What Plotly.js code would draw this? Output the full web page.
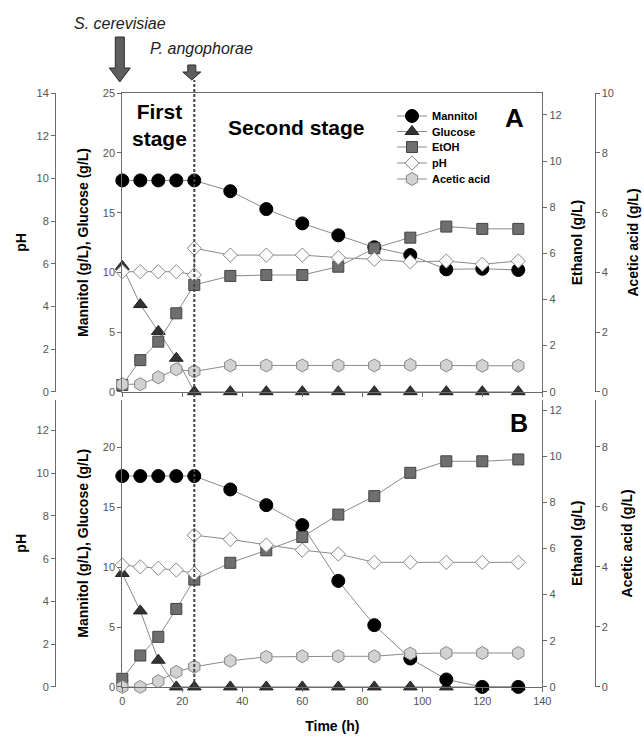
<!DOCTYPE html>
<html>
<head>
<meta charset="utf-8">
<script src="https://cdn.plot.ly/plotly-3.0.1.min.js"></script>
<style>html,body{margin:0;padding:0;background:#fff}#chart{width:644px;height:738px}</style>
</head>
<body>
<div id="chart"></div>
<script>
// ---- data ----
const time   = [0, 6, 12, 18, 24, 36, 48, 60, 72, 84, 96, 108, 120, 132];
const timePH = [0, 6, 12, 18, 24, 24, 36, 48, 60, 72, 84, 96, 108, 120, 132];

// Panel A
const mannitolA = [17.7, 17.7, 17.7, 17.7, 17.7, 16.8, 15.3, 14.1, 13.1, 12.1, 11.45, 10.25, 10.3, 10.2];
const glucoseA  = [10.5, 7.3, 5.05, 2.8, 0, 0, 0, 0, 0, 0, 0, 0, 0, 0];
const ethanolA  = [0.29, 1.37, 2.17, 3.4, 4.63, 5.02, 5.06, 5.06, 5.42, 6.22, 6.68, 7.16, 7.06, 7.06];
const phA       = [5.63, 5.63, 5.63, 5.63, 5.48, 6.73, 6.41, 6.41, 6.41, 6.29, 6.21, 6.09, 6.13, 5.98, 6.13];
const aceticA   = [0.25, 0.25, 0.48, 0.75, 0.68, 0.88, 0.88, 0.88, 0.88, 0.88, 0.9, 0.88, 0.87, 0.87];

// Panel B
const mannitolB = [17.62, 17.62, 17.62, 17.62, 17.62, 16.5, 15.19, 13.52, 8.86, 5.16, 2.37, 0.62, 0, 0];
const glucoseB  = [9.48, 6.35, 2.23, 0, 0, 0, 0, 0, 0, 0, 0, 0, 0, 0];
const ethanolB  = [0.35, 1.36, 2.17, 3.38, 4.65, 5.38, 5.92, 6.5, 7.47, 8.27, 9.28, 9.78, 9.78, 9.86];
const phB       = [5.7, 5.62, 5.55, 5.47, 5.31, 7.1, 6.9, 6.64, 6.4, 6.22, 5.83, 5.83, 5.83, 5.83, 5.83];
const aceticB   = [0, 0, 0.19, 0.5, 0.67, 0.87, 1.0, 1.02, 1.02, 1.02, 1.11, 1.13, 1.13, 1.13];

const seriesNames = ['Mannitol', 'Glucose', 'EtOH', 'pH', 'Acetic acid'];
const xTicks = [0, 20, 40, 60, 80, 100, 120, 140];
const xRange = [0, 140];
const inoculationTime = 24;

// ---- layout helpers ----
const W = 644, H = 738;
const fx = p => p / W;
const fy = p => 1 - p / H;
const FONT = 'Liberation Sans, Arial, Helvetica, sans-serif';
const LINE = '#8a8a8a';

const styles = {
  'Mannitol':    {symbol: 'circle', size: 13, color: '#000000', line: {color: '#000', width: 1}},
  'Glucose':     {symbol: 'triangle-up', size: 12, color: '#333333', line: {color: '#222', width: 1}},
  'EtOH':        {symbol: 'square', size: 11, color: '#6e6e6e', line: {color: '#444', width: 1}},
  'pH':          {symbol: 'diamond', size: 11, color: '#fafafa', line: {color: '#8a8a8a', width: 1}},
  'Acetic acid': {symbol: 'hexagon', size: 13, color: '#d2d2d2', line: {color: '#888', width: 1}}
};
const legendIds = {'Mannitol': 'legend', 'Glucose': 'legend2', 'EtOH': 'legend3', 'pH': 'legend4', 'Acetic acid': 'legend5'};

function tr(name, x, y, xa, ya, show) {
  return {
    type: 'scatter', mode: 'lines+markers', name: name, x: x, y: y,
    xaxis: xa, yaxis: ya, showlegend: show, legend: legendIds[name], cliponaxis: false,
    line: {color: LINE, width: 1}, marker: styles[name], hoverinfo: 'x+y+name'
  };
}

const data = [
  // Panel A (x2)
  tr('Glucose', time, glucoseA, 'x2', 'y', true),
  tr('Mannitol', time, mannitolA, 'x2', 'y', true),
  tr('EtOH', time, ethanolA, 'x2', 'y2', true),
  tr('pH', timePH, phA, 'x2', 'y3', true),
  tr('Acetic acid', time, aceticA, 'x2', 'y4', true),
  // Panel B (x)
  tr('Glucose', time, glucoseB, 'x', 'y5', false),
  tr('Mannitol', time, mannitolB, 'x', 'y5', false),
  tr('EtOH', time, ethanolB, 'x', 'y6', false),
  tr('pH', timePH, phB, 'x', 'y7', false),
  tr('Acetic acid', time, aceticB, 'x', 'y8', false)
];

const plotL = 122.3, plotR = 542.3;
const domX = [fx(plotL), fx(plotR)];
const domA = [fy(391.7), fy(93.3)];
const domB = [fy(686.9), fy(399.7)];
const posPH = fx(55);
const posAc = fx(594.5);

// pixel x of a time value (same linear scale as the x axis), for the marker arrows
const tPix = t => plotL + (t - xRange[0]) / (xRange[1] - xRange[0]) * (plotR - plotL);

// block arrow pointing down, in paper coordinates, from pixel geometry
function arrowPath(cx, yTop, yNeck, yTip, stemHalf, headHalf) {
  const P = (x, y) => fx(x).toFixed(5) + ',' + fy(y).toFixed(5);
  return 'M ' + P(cx - stemHalf, yTop) + ' L ' + P(cx + stemHalf, yTop) + ' L ' + P(cx + stemHalf, yNeck) +
         ' L ' + P(cx + headHalf, yNeck) + ' L ' + P(cx, yTip) + ' L ' + P(cx - headHalf, yNeck) +
         ' L ' + P(cx - stemHalf, yNeck) + ' Z';
}

const tickFont = {family: FONT, size: 11, color: '#555'};
const titleFont = {family: FONT, size: 14, color: '#000', weight: 'bold'};
const AX = '#6a6a6a';

function yAx(o) {
  return Object.assign({
    showgrid: false, zeroline: false, showline: true, linecolor: AX, linewidth: 1,
    ticks: 'outside', ticklen: 4, tickcolor: AX, tickfont: tickFont, fixedrange: true
  }, o);
}
function leg(centerY) {
  return {
    x: fx(392), y: fy(centerY), xanchor: 'left', yanchor: 'middle',
    bgcolor: 'rgba(0,0,0,0)', borderwidth: 0,
    font: {family: FONT, size: 11, color: '#000', weight: 'bold'}, itemwidth: 30
  };
}
function ann(o) {
  return Object.assign({showarrow: false, xanchor: 'center', yanchor: 'middle'}, o);
}

const layout = {
  width: W, height: H,
  margin: {l: 0, r: 0, t: 0, b: 0},
  paper_bgcolor: '#fff', plot_bgcolor: 'rgba(0,0,0,0)',
  font: {family: FONT},
  showlegend: true,
  legend: leg(116),
  legend2: leg(131.5),
  legend3: leg(147),
  legend4: leg(163),
  legend5: leg(179),
  xaxis: {
    domain: domX, anchor: 'y5', range: xRange, tickvals: xTicks,
    showgrid: false, zeroline: false, showline: true, linecolor: AX,
    ticks: 'outside', ticklen: 4, tickcolor: AX, tickfont: tickFont,
    title: {text: 'Time (h)', font: titleFont, standoff: 15}
  },
  xaxis2: {
    domain: domX, anchor: 'y', range: xRange, tickvals: xTicks, showticklabels: false,
    showgrid: false, zeroline: false, showline: true, linecolor: AX, mirror: true,
    ticks: 'outside', ticklen: 4, tickcolor: AX
  },
  // Panel A axes
  yaxis: yAx({domain: domA, anchor: 'x2', range: [0, 25], dtick: 5,
    title: {text: 'Mannitol (g/L), Glucose (g/L)', font: titleFont, standoff: 10}}),
  yaxis2: yAx({overlaying: 'y', anchor: 'x2', side: 'right', range: [0, 12.94], dtick: 2,
    title: {text: 'Ethanol (g/L)', font: titleFont, standoff: 11}}),
  yaxis3: yAx({overlaying: 'y', anchor: 'free', position: posPH, side: 'left', range: [0, 14], dtick: 2,
    title: {text: 'pH', font: titleFont, standoff: 5}}),
  yaxis4: yAx({overlaying: 'y', anchor: 'free', position: posAc, side: 'right', range: [0, 10], dtick: 2,
    title: {text: 'Acetic acid (g/L)', font: titleFont, standoff: 15}}),
  // Panel B axes
  yaxis5: yAx({domain: domB, anchor: 'x', range: [0, 24], dtick: 5,
    title: {text: 'Mannitol (g/L), Glucose (g/L)', font: titleFont, standoff: 10}}),
  yaxis6: yAx({overlaying: 'y5', anchor: 'x', side: 'right', range: [0, 12.45], dtick: 2,
    title: {text: 'Ethanol (g/L)', font: titleFont, standoff: 11}}),
  yaxis7: yAx({overlaying: 'y5', anchor: 'free', position: posPH, side: 'left', range: [0, 13.44], dtick: 2,
    title: {text: 'pH', font: titleFont, standoff: 5}}),
  yaxis8: yAx({overlaying: 'y5', anchor: 'free', position: posAc, side: 'right', range: [0, 9.57], dtick: 2,
    title: {text: 'Acetic acid (g/L)', font: titleFont, standoff: 15}}),
  shapes: [
    {type: 'line', xref: 'x', x0: inoculationTime, x1: inoculationTime, yref: 'paper',
     y0: domB[0], y1: fy(80), line: {color: '#444', width: 2, dash: '3px,2px'}, layer: 'above'},
    // arrow for S. cerevisiae (at t = 0)
    {type: 'path', xref: 'paper', yref: 'paper', path: arrowPath(tPix(0) - 2.5, 37, 68, 82, 4.5, 10.5),
     fillcolor: '#5e5e5e', line: {color: '#2a2a2a', width: 1}},
    // arrow for P. angophorae (at t = 24)
    {type: 'path', xref: 'paper', yref: 'paper', path: arrowPath(tPix(inoculationTime) - 2.5, 65, 72, 80, 4, 9),
     fillcolor: '#5e5e5e', line: {color: '#2a2a2a', width: 1}}
  ],
  annotations: [
    ann({text: 'S. cerevisiae', xref: 'x', x: 0, xshift: -2, yref: 'paper', y: fy(24),
     font: {family: FONT, size: 16, color: '#222', style: 'italic'}}),
    ann({text: 'P. angophorae', xref: 'x', x: inoculationTime, xshift: 7, yref: 'paper', y: fy(48),
     font: {family: FONT, size: 16, color: '#222', style: 'italic'}}),
    ann({text: 'First<br>stage', xref: 'x', x: 12.5, yref: 'paper', y: fy(125),
     font: {family: FONT, size: 21, color: '#000', weight: 'bold'}}),
    ann({text: 'Second stage', xref: 'x', x: 58, yref: 'paper', y: fy(127),
     font: {family: FONT, size: 21, color: '#000', weight: 'bold'}}),
    ann({text: 'A', xref: 'paper', x: fx(514), yref: 'paper', y: fy(118),
     font: {family: FONT, size: 26, color: '#000', weight: 'bold'}}),
    ann({text: 'B', xref: 'paper', x: fx(519), yref: 'paper', y: fy(423),
     font: {family: FONT, size: 25, color: '#000', weight: 'bold'}})
  ]
};

Plotly.newPlot('chart', data, layout, {displayModeBar: false, staticPlot: true});
</script>
</body>
</html>
